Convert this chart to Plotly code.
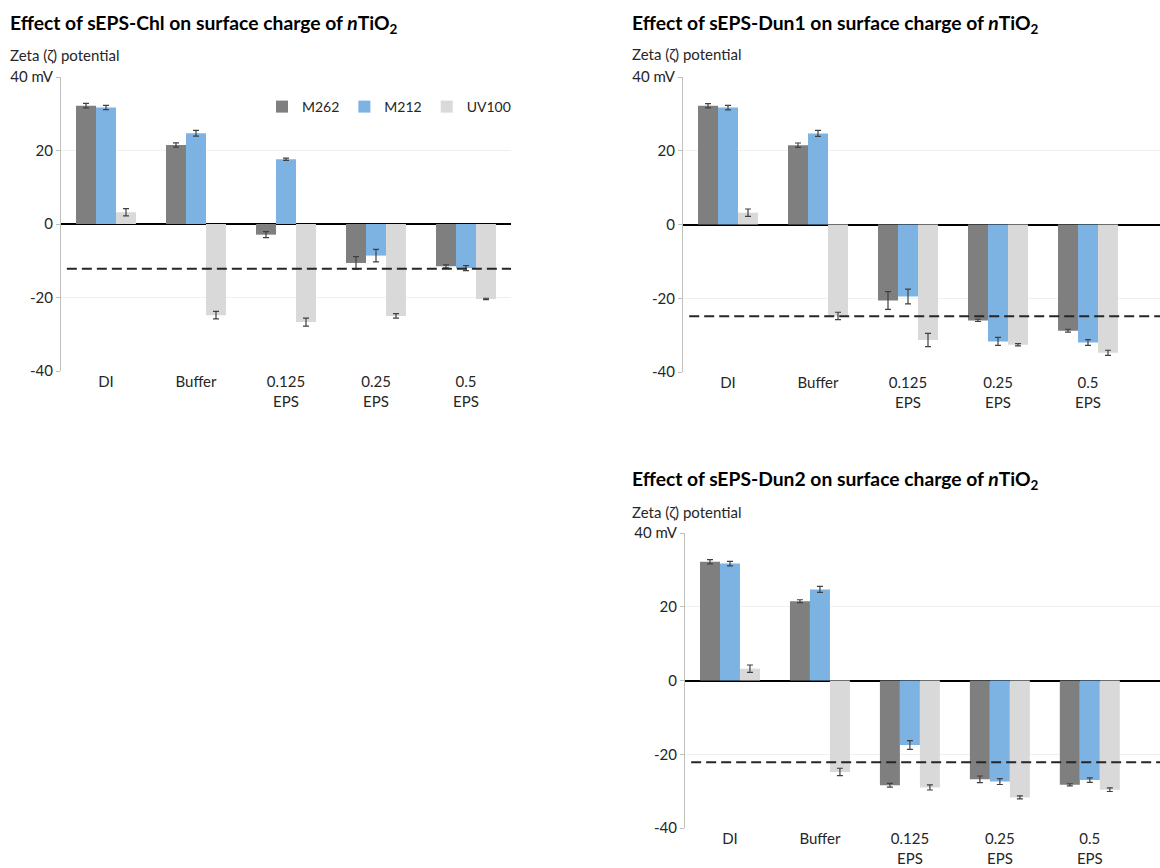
import plotly.graph_objects as go

# Categories along the x axis
categories = ["DI", "Buffer", "0.125<br>EPS", "0.25<br>EPS", "0.5<br>EPS"]
series_names = ["M262", "M212", "UV100"]
series_colors = ["#7f7f7f", "#7db3e3", "#d9d9d9"]

# sEPS-Chl
chl_m262 = [32.2, 21.5, -2.9, -10.6, -11.5]
chl_m212 = [31.7, 24.7, 17.6, -8.6, -12.0]
chl_uv100 = [3.2, -24.8, -26.7, -25.0, -20.4]
chl_m262_err = [0.6, 0.6, 0.8, 1.7, 0.4]
chl_m212_err = [0.6, 0.8, 0.3, 1.7, 0.7]
chl_uv100_err = [1.0, 1.0, 1.1, 0.6, 0.2]
chl_ref = -12.2

# sEPS-Dun1
dun1_m262 = [32.2, 21.5, -20.6, -26.0, -28.8]
dun1_m212 = [31.7, 24.7, -19.5, -31.7, -32.0]
dun1_uv100 = [3.2, -24.8, -31.3, -32.6, -34.8]
dun1_m262_err = [0.6, 0.6, 2.4, 0.3, 0.4]
dun1_m212_err = [0.6, 0.8, 2.0, 1.1, 0.8]
dun1_uv100_err = [1.0, 1.0, 1.8, 0.3, 0.7]
dun1_ref = -24.9

# sEPS-Dun2
dun2_m262 = [32.2, 21.5, -28.4, -26.8, -28.3]
dun2_m212 = [31.7, 24.7, -17.5, -27.4, -27.0]
dun2_uv100 = [3.2, -24.8, -29.0, -31.7, -29.6]
dun2_m262_err = [0.6, 0.4, 0.5, 0.9, 0.3]
dun2_m212_err = [0.6, 0.8, 1.2, 0.8, 0.6]
dun2_uv100_err = [1.0, 1.0, 0.7, 0.4, 0.5]
dun2_ref = -22.2

y_ticks = [-40, -20, 0, 20, 40]
y_tick_text = ["-40", "-20", "0", "20", "40 mV"]

W, H = 1160, 868
FONT = "Lato"
TEXT = "#262626"

panels = [
    dict(name="sEPS-Chl", vals=[chl_m262, chl_m212, chl_uv100],
         errs=[chl_m262_err, chl_m212_err, chl_uv100_err], ref=chl_ref,
         px_x=(61, 511), px_y=(77, 371), xr=[-0.5, 4.5], legend=True,
         title_xy=(8, 24), sub_xy=(8, 55)),
    dict(name="sEPS-Dun1", vals=[dun1_m262, dun1_m212, dun1_uv100],
         errs=[dun1_m262_err, dun1_m212_err, dun1_uv100_err], ref=dun1_ref,
         px_x=(683, 1160), px_y=(77, 372), xr=[-0.5, 4.8], legend=False,
         title_xy=(630, 24), sub_xy=(630, 54)),
    dict(name="sEPS-Dun2", vals=[dun2_m262, dun2_m212, dun2_uv100],
         errs=[dun2_m262_err, dun2_m212_err, dun2_uv100_err], ref=dun2_ref,
         px_x=(685, 1160), px_y=(533, 828), xr=[-0.5, 4.78], legend=False,
         title_xy=(630, 480), sub_xy=(630, 512)),
]

fig = go.Figure()
annotations = []
shapes = []

for i, p in enumerate(panels, start=1):
    xa = "x" if i == 1 else f"x{i}"
    ya = "y" if i == 1 else f"y{i}"
    for name, color, vals, errs in zip(series_names, series_colors, p["vals"], p["errs"]):
        fig.add_trace(go.Bar(
            x=categories, y=vals, name=name, marker=dict(color=color, line=dict(width=0)),
            error_y=dict(type="data", array=errs, visible=True, color="#404040",
                         thickness=1.2, width=3),
            xaxis=xa, yaxis=ya, showlegend=p["legend"], offsetgroup=name,
        ))
    x0, x1 = p["px_x"]
    y0, y1 = p["px_y"]
    xdom = [x0 / W, x1 / W]
    ydom = [1 - y1 / H, 1 - y0 / H]
    xkey = "xaxis" if i == 1 else f"xaxis{i}"
    ykey = "yaxis" if i == 1 else f"yaxis{i}"
    fig.update_layout(**{
        xkey: dict(domain=xdom, anchor=ya, range=p["xr"], showline=False, showgrid=False,
                   ticks="", tickfont=dict(family=FONT, size=15, color=TEXT),
                   fixedrange=True),
        ykey: dict(domain=ydom, anchor=xa, range=[-40, 40], tickvals=y_ticks,
                   ticktext=y_tick_text, showline=True, linecolor="#bfbfbf", linewidth=1,
                   ticks="outside", ticklen=4, tickcolor="#bfbfbf",
                   showgrid=True, gridcolor="#f0f0f0", gridwidth=1,
                   zeroline=True, zerolinecolor="#000000", zerolinewidth=1.6,
                   tickfont=dict(family=FONT, size=15, color=TEXT), fixedrange=True),
    })
    # reference level drawn as a dashed horizontal line across the panel
    shapes.append(dict(type="line", xref=f"{xa} domain", yref=ya, x0=0.013, x1=1,
                       y0=p["ref"], y1=p["ref"],
                       line=dict(color="#262626", width=2, dash="10px,5px")))
    tx, ty = p["title_xy"]
    annotations.append(dict(
        text=f"<b>Effect of {p['name']} on surface charge of <i>n</i>TiO<sub>2</sub></b>",
        xref="paper", yref="paper", x=tx / W, y=1 - ty / H, xanchor="left", yanchor="middle",
        showarrow=False, font=dict(family=FONT, size=19.3, color="#000000")))
    sx, sy = p["sub_xy"]
    annotations.append(dict(
        text="Zeta (ζ) potential", xref="paper", yref="paper", x=sx / W, y=1 - sy / H,
        xanchor="left", yanchor="middle", showarrow=False,
        font=dict(family=FONT, size=15, color=TEXT)))

fig.update_layout(
    width=W, height=H, margin=dict(l=0, r=0, t=0, b=0, autoexpand=False),
    paper_bgcolor="white", plot_bgcolor="white",
    barmode="group", bargap=1/3, bargroupgap=0,
    legend=dict(orientation="h", x=262 / W, y=1 - 107 / H, xanchor="left", yanchor="middle",
                font=dict(family=FONT, size=14, color=TEXT), itemwidth=30,
                bgcolor="rgba(0,0,0,0)", traceorder="normal"),
    annotations=annotations, shapes=shapes,
)

fig.write_html("out.html")
